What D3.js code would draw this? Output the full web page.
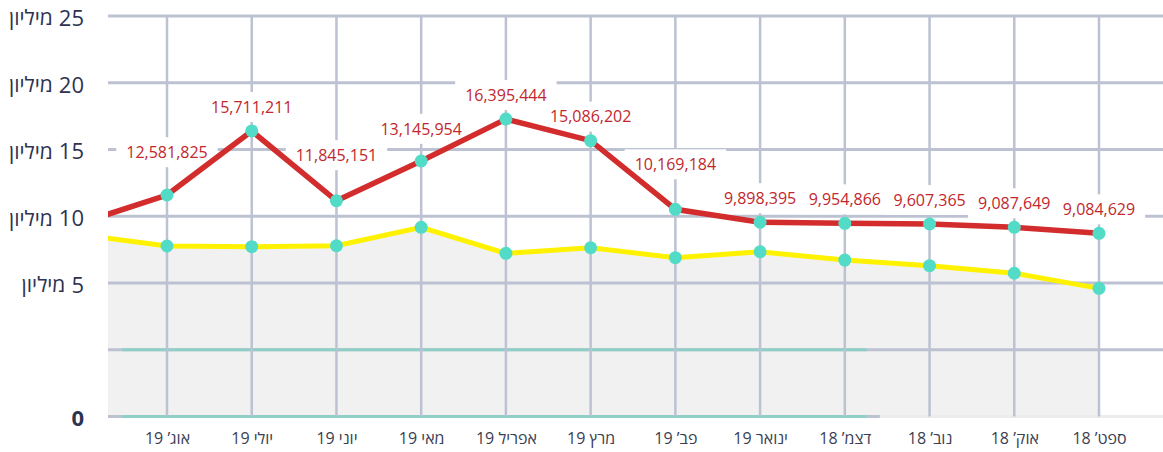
<!DOCTYPE html>
<html>
<head>
<meta charset="utf-8">
<script src="https://cdn.jsdelivr.net/npm/d3@7"></script>
<style>
    body { margin: 0; background: #fff; }
    svg { display: block; font-family: "Open Sans", "DejaVu Sans", sans-serif; }
</style>
</head>
<body>
<svg id="chart" width="1163" height="452"></svg>
<script>
// months run right-to-left in time: newest on the left
let months = ["אוג’ 19", "יולי 19", "יוני 19", "מאי 19", "אפריל 19", "מרץ 19", "פב’ 19", "ינואר 19", "דצמ’ 18", "נוב’ 18", "אוק’ 18", "ספט’ 18"];

// values in millions
let redValues = [11.59, 16.39, 11.16, 14.14, 17.28, 15.66, 10.52, 9.55, 9.47, 9.42, 9.17, 8.72];
let yellowValues = [7.77, 7.72, 7.79, 9.17, 7.22, 7.64, 6.90, 7.34, 6.72, 6.30, 5.73, 4.60];
let redLabels = ["12,581,825", "15,711,211", "11,845,151", "13,145,954", "16,395,444", "15,086,202", "10,169,184", "9,898,395", "9,954,866", "9,607,365", "9,087,649", "9,084,629"];

// the month before August, cut off by the left edge
let leadRed = 9.52;
let leadYellow = 8.61;

let yTicks = [-5, 0, 5, 10, 15, 20, 25];
let yTickLabels = ["0", "", "5 מיליון", "10 מיליון", "15 מיליון", "20 מיליון", "25 מיליון"];

let svg = d3.select("#chart");
let width = +svg.attr("width");
let margin = {left: 108, top: 16, bottom: 416.5};

let x = d3.scalePoint().domain(months).range([margin.left + 59, width - 64]);
let y = d3.scaleLinear().domain([-5, 25]).range([margin.bottom, margin.top]);

let gridColor = "#bcc2d2";
let tealColor = "#8fcfc8";
let fontFamily = "'Open Sans', 'DejaVu Sans', sans-serif";

svg.append("clipPath").attr("id", "plot")
    .append("rect").attr("x", margin.left).attr("y", 0).attr("width", width - margin.left).attr("height", margin.bottom + 4);

let leadX = x(months[0]) - x.step();
let redPts = [[leadX, leadRed]].concat(months.map((m, i) => [x(m), redValues[i]]));
let yellowPts = [[leadX, leadYellow]].concat(months.map((m, i) => [x(m), yellowValues[i]]));

// grey area under the yellow line
svg.append("g").attr("clip-path", "url(#plot)")
    .append("path")
    .datum(yellowPts)
    .attr("fill", "#f1f1f1")
    .attr("d", d3.area().x(d => d[0]).y0(y(-5)).y1(d => y(d[1])));

// horizontal grid
svg.append("g")
    .selectAll("line")
    .data(yTicks)
    .enter().append("line")
    .attr("x1", margin.left).attr("x2", width)
    .attr("y1", d => y(d)).attr("y2", d => y(d))
    .attr("stroke", d => d === -5 ? "#ececec" : gridColor)
    .attr("stroke-width", 3);

// teal overlay on the two lowest lines
let tealEnd = x("דצמ’ 18") + 22;
svg.append("g")
    .selectAll("line")
    .data([-5, 0])
    .enter().append("line")
    .attr("x1", margin.left + 14).attr("x2", tealEnd)
    .attr("y1", d => y(d)).attr("y2", d => y(d))
    .attr("stroke", tealColor)
    .attr("stroke-width", 3);
svg.append("line")
    .attr("x1", margin.left).attr("x2", margin.left + 14)
    .attr("y1", y(-5)).attr("y2", y(-5))
    .attr("stroke", gridColor).attr("stroke-width", 3);
svg.append("line")
    .attr("x1", tealEnd).attr("x2", tealEnd + 13)
    .attr("y1", y(-5)).attr("y2", y(-5))
    .attr("stroke", gridColor).attr("stroke-width", 3);

// vertical grid
svg.append("g")
    .selectAll("line")
    .data(months)
    .enter().append("line")
    .attr("x1", d => x(d)).attr("x2", d => x(d))
    .attr("y1", margin.top).attr("y2", margin.bottom)
    .attr("stroke", gridColor)
    .attr("stroke-width", 2.5);

// y axis: number from the axis, the Hebrew word as its own text to the left of it
let yAxis = svg.append("g")
    .attr("transform", "translate(" + margin.left + ",0)")
    .call(d3.axisLeft(y).tickValues(yTicks).tickSize(0).tickPadding(24)
        .tickFormat((d, i) => yTickLabels[i].split(" ")[0]));
yAxis.select(".domain").remove();
yAxis.selectAll("text")
    .attr("font-family", fontFamily)
    .style("font-size", "22px")
    .attr("fill", "#2d3350")
    .attr("dy", "0.42em")
    .attr("font-weight", d => d === -5 ? "bold" : "normal");
yAxis.selectAll(".tick").each(function(d, i) {
    let word = yTickLabels[i].split(" ")[1];
    if (!word) return;
    let num = d3.select(this).select("text");
    let w = num.node().getComputedTextLength();
    d3.select(this).append("text")
        .attr("x", +num.attr("x") - w - 6)
        .attr("dy", "0.42em")
        .attr("text-anchor", "end")
        .attr("font-family", fontFamily)
        .attr("fill", "#2d3350")
        .style("font-size", "21px")
        .text(word);
});

// x axis labels
let xAxis = svg.append("g")
    .attr("transform", "translate(0," + margin.bottom + ")")
    .call(d3.axisBottom(x).tickSize(0).tickPadding(16));
xAxis.select(".domain").remove();
xAxis.selectAll("text")
    .attr("font-family", fontFamily)
    .style("font-size", "16px")
    .attr("fill", "#3a3e52");

// red line height (px) at a given x, for keeping labels clear of the line
function lineY(pts, px) {
    for (let k = 1; k < pts.length; k++) {
        let a = pts[k - 1], b = pts[k];
        if (px >= a[0] && px <= b[0]) {
            let t = (px - a[0]) / (b[0] - a[0]);
            return y(a[1]) + t * (y(b[1]) - y(a[1]));
        }
    }
    return y(pts[pts.length - 1][1]);
}

// value labels on white boxes, drawn left to right so later boxes cover earlier text
let labels = svg.append("g")
    .selectAll("g")
    .data(months)
    .enter().append("g");

labels.append("rect").attr("fill", "#fff");
labels.append("text")
    .attr("text-anchor", "middle")
    .attr("dy", "0.36em")
    .attr("font-family", fontFamily)
    .style("font-size", "16px")
    .attr("fill", "#c1272d")
    .text((d, i) => redLabels[i]);
labels.each(function(d, i) {
    let g = d3.select(this);
    let b = g.select("text").node().getBBox();
    let px = x(d), py = y(redValues[i]);
    let half = b.width / 2;
    let clear = Math.min(lineY(redPts, px - half), lineY(redPts, Math.min(px + half, x.range()[1]))) - 12;
    let cy = Math.min(py - 24, clear);
    g.attr("transform", "translate(" + px + "," + cy + ")");
    g.select("rect")
        .attr("x", b.x - 10).attr("width", b.width + 20)
        .attr("y", -15).attr("height", 30);
});

// lines above the label boxes
let lines = svg.append("g").attr("clip-path", "url(#plot)");

lines.append("path")
    .datum(yellowPts)
    .attr("fill", "none")
    .attr("stroke", "#fff200")
    .attr("stroke-width", 5)
    .attr("d", d3.line().x(d => d[0]).y(d => y(d[1])));

lines.append("path")
    .datum(redPts)
    .attr("fill", "none")
    .attr("stroke", "#d22c2c")
    .attr("stroke-width", 5.5)
    .attr("d", d3.line().x(d => d[0]).y(d => y(d[1])));

// dots
[redValues, yellowValues].forEach(vals => {
    svg.append("g")
        .selectAll("circle")
        .data(months)
        .enter().append("circle")
        .attr("cx", d => x(d))
        .attr("cy", (d, i) => y(vals[i]))
        .attr("r", 6.5)
        .attr("fill", "#52dbc6");
});
</script>
</body>
</html>
